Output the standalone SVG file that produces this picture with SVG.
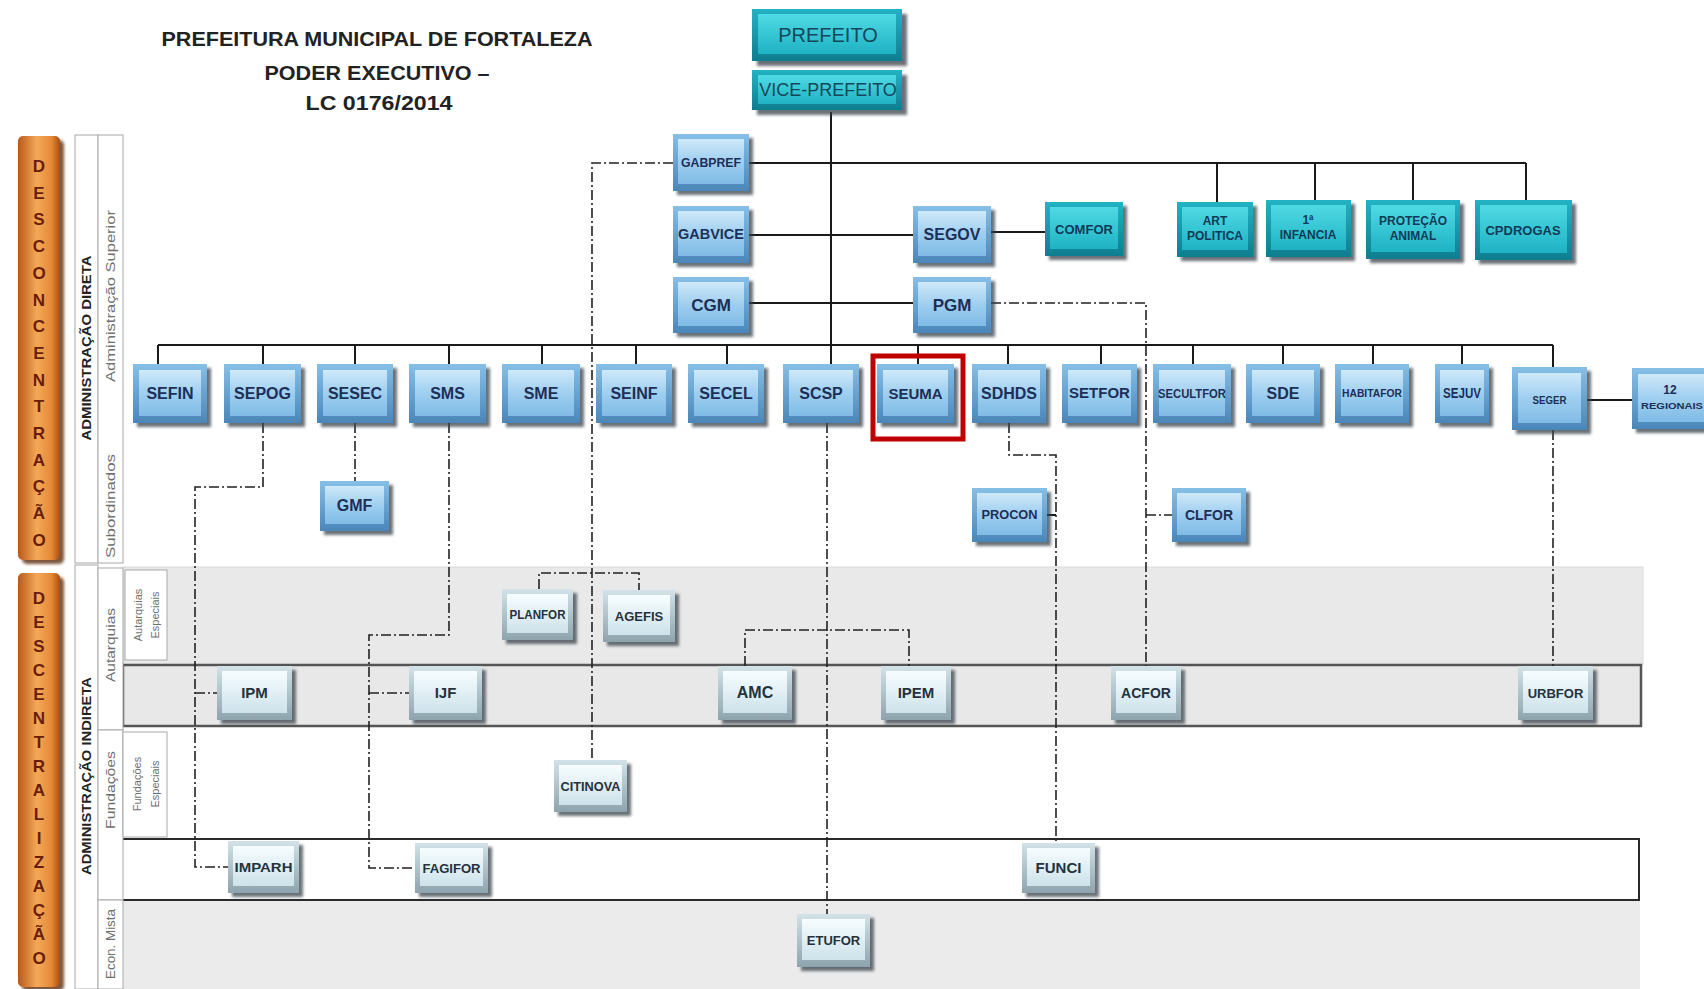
<svg xmlns="http://www.w3.org/2000/svg" width="1704" height="989" viewBox="0 0 1704 989">
<defs>
<linearGradient id="gBO" x1="0" y1="0" x2="0" y2="1"><stop offset="0" stop-color="#86bfe6"/><stop offset="1" stop-color="#4a86b9"/></linearGradient>
<linearGradient id="gBF" x1="0" y1="0" x2="0" y2="1"><stop offset="0" stop-color="#cfe9f9"/><stop offset="0.5" stop-color="#9fcff0"/><stop offset="1" stop-color="#80bbe6"/></linearGradient>
<linearGradient id="gTO" x1="0" y1="0" x2="0" y2="1"><stop offset="0" stop-color="#22b3c4"/><stop offset="1" stop-color="#0e7d8f"/></linearGradient>
<linearGradient id="gTF" x1="0" y1="0" x2="0" y2="1"><stop offset="0" stop-color="#50dae4"/><stop offset="1" stop-color="#1eb2c4"/></linearGradient>
<linearGradient id="gPO" x1="0" y1="0" x2="0" y2="1"><stop offset="0" stop-color="#d2e2e8"/><stop offset="1" stop-color="#8ea4ad"/></linearGradient>
<linearGradient id="gPF" x1="0" y1="0" x2="0" y2="1"><stop offset="0" stop-color="#f7fdff"/><stop offset="1" stop-color="#cde2ea"/></linearGradient>
<linearGradient id="gOr" x1="0" y1="0" x2="1" y2="0"><stop offset="0" stop-color="#b8591a"/><stop offset="0.45" stop-color="#f4a957"/><stop offset="0.8" stop-color="#e48936"/><stop offset="1" stop-color="#a94e12"/></linearGradient>
<filter id="bl" x="-10%" y="-10%" width="130%" height="130%"><feGaussianBlur stdDeviation="1.5"/></filter>
</defs>
<style>
.sh{fill:#38424c;opacity:.75;filter:url(#bl)}
.nb .o{fill:url(#gBO)} .nb .f{fill:url(#gBF)}
.nt .o{fill:url(#gTO)} .nt .f{fill:url(#gTF)}
.np .o{fill:url(#gPO)} .np .f{fill:url(#gPF)}
.nb text,.np text,.nt text{font-family:"Liberation Sans",Arial,sans-serif;font-weight:bold;text-anchor:middle;fill:#1d2f57}
.np text{fill:#25323e}
.nt text{fill:#0f3a55}
.ln{stroke:#1a1a1a;stroke-width:2;fill:none}
.dd{stroke:#222;stroke-width:1.6;fill:none;stroke-dasharray:10 3 2 3}
.lab{font-family:"Liberation Sans",Arial,sans-serif;fill:#6f6f6f;text-anchor:middle}
.labb{font-family:"Liberation Sans",Arial,sans-serif;fill:#222;font-weight:bold;text-anchor:middle}
.bx{fill:#fff;stroke:#a8a8a8;stroke-width:1}
.or{fill:url(#gOr)}
.orsh{fill:#5b2e0c;opacity:.8;filter:url(#bl)}
.orl{font-family:"Liberation Sans",Arial,sans-serif;font-weight:bold;font-size:17px;fill:#6a1c0b;text-anchor:middle}
.ttl{font-family:"Liberation Sans",Arial,sans-serif;font-weight:bold;font-size:20px;fill:#222;text-anchor:middle}
</style>
<rect width="1704" height="989" fill="#ffffff"/>

<g id="title">
<text class="ttl" x="377" y="46" textLength="431" lengthAdjust="spacingAndGlyphs">PREFEITURA MUNICIPAL DE FORTALEZA</text>
<text class="ttl" x="377" y="80" textLength="225" lengthAdjust="spacingAndGlyphs">PODER EXECUTIVO –</text>
<text class="ttl" x="379" y="110" textLength="147" lengthAdjust="spacingAndGlyphs">LC 0176/2014</text>
</g>

<g id="bands">
<rect x="123" y="567" width="1520" height="98" fill="#e9e9e9" stroke="#dadada"/>
<rect x="123" y="665" width="1518" height="61" fill="#e8e8e8" stroke="#555" stroke-width="2.5"/>
<rect x="98" y="900" width="1542" height="89" fill="#ebebeb"/>
<rect x="117" y="839" width="1522" height="61" fill="#ffffff" stroke="#2a2a2a" stroke-width="2"/>
</g>

<g id="side-labels">
<rect class="orsh" x="22" y="140" width="42" height="424" rx="5"/>
<rect class="or" x="18" y="136" width="42" height="424" rx="5"/>
<text class="orl"><tspan x="39" y="172">D</tspan><tspan x="39" y="198.7">E</tspan><tspan x="39" y="225.4">S</tspan><tspan x="39" y="252.1">C</tspan><tspan x="39" y="278.8">O</tspan><tspan x="39" y="305.5">N</tspan><tspan x="39" y="332.2">C</tspan><tspan x="39" y="358.9">E</tspan><tspan x="39" y="385.6">N</tspan><tspan x="39" y="412.3">T</tspan><tspan x="39" y="439">R</tspan><tspan x="39" y="465.7">A</tspan><tspan x="39" y="492.4">Ç</tspan><tspan x="39" y="519.1">Ã</tspan><tspan x="39" y="546">O</tspan></text>
<rect class="orsh" x="22" y="577" width="42" height="414" rx="5"/>
<rect class="or" x="18" y="573" width="42" height="414" rx="5"/>
<text class="orl"><tspan x="39" y="604">D</tspan><tspan x="39" y="628">E</tspan><tspan x="39" y="652">S</tspan><tspan x="39" y="676">C</tspan><tspan x="39" y="700">E</tspan><tspan x="39" y="724">N</tspan><tspan x="39" y="748">T</tspan><tspan x="39" y="772">R</tspan><tspan x="39" y="796">A</tspan><tspan x="39" y="820">L</tspan><tspan x="39" y="844">I</tspan><tspan x="39" y="868">Z</tspan><tspan x="39" y="892">A</tspan><tspan x="39" y="916">Ç</tspan><tspan x="39" y="940">Ã</tspan><tspan x="39" y="964">O</tspan></text>

<rect class="bx" x="75" y="135" width="23" height="428"/>
<rect class="bx" x="98" y="135" width="25" height="428"/>
<text class="labb" font-size="12.5" transform="translate(91,348) rotate(-90)" textLength="185" lengthAdjust="spacingAndGlyphs">ADMINISTRAÇÃO DIRETA</text>
<text class="lab" font-size="13" transform="translate(115,296) rotate(-90)" textLength="172" lengthAdjust="spacingAndGlyphs">Administração Superior</text>
<text class="lab" font-size="13" transform="translate(115,506) rotate(-90)" textLength="104" lengthAdjust="spacingAndGlyphs">Subordinados</text>

<rect class="bx" x="75" y="565" width="23" height="424"/>
<rect class="bx" x="98" y="568" width="25" height="162"/>
<rect class="bx" x="98" y="730" width="25" height="170"/>
<rect class="bx" x="98" y="900" width="25" height="89" fill="#ebebeb"/>
<rect class="bx" x="125" y="570" width="42" height="90"/>
<rect class="bx" x="123" y="732" width="44" height="105"/>
<text class="labb" font-size="12.5" transform="translate(91,776) rotate(-90)" textLength="198" lengthAdjust="spacingAndGlyphs">ADMINISTRAÇÃO INDIRETA</text>
<text class="lab" font-size="13" transform="translate(115,645) rotate(-90)" textLength="74" lengthAdjust="spacingAndGlyphs">Autarquias</text>
<text class="lab" font-size="13" transform="translate(115,790) rotate(-90)" textLength="78" lengthAdjust="spacingAndGlyphs">Fundações</text>
<text class="lab" font-size="13" transform="translate(115,944) rotate(-90)" textLength="70" lengthAdjust="spacingAndGlyphs">Econ. Mista</text>
<text class="lab" font-size="11" transform="translate(142,615) rotate(-90)">Autarquias</text>
<text class="lab" font-size="11" transform="translate(159,615) rotate(-90)">Especiais</text>
<text class="lab" font-size="11" transform="translate(141,784) rotate(-90)">Fundações</text>
<text class="lab" font-size="11" transform="translate(159,784) rotate(-90)">Especiais</text>
</g>

<g id="connectors">
<path class="ln" d="M831 112V364"/>
<path class="ln" d="M749 163H1526M1217 163V202M1315 163V200M1413 163V200M1526 163V200"/>
<path class="ln" d="M749 235H913"/>
<path class="ln" d="M991 232H1045"/>
<path class="ln" d="M749 303H913"/>
<path class="ln" d="M158 345H1553M158 345V364M263 345V364M355 345V364M449 345V364M542 345V364M636 345V364M727 345V364M918 345V364M1008 345V364M1101 345V364M1193 345V364M1283 345V364M1373 345V364M1462 345V364M1553 345V367"/>
<path class="ln" d="M1587 400H1632"/>
<path class="ln" d="M1047 515H1056"/>
<path class="dd" d="M673 163H592V760"/>
<path class="dd" stroke-width="2.4" d="M539 589V573H639V590"/>
<path class="dd" d="M263 423V487H195V867H228"/>
<path class="dd" d="M195 693H217"/>
<path class="dd" d="M355 423V481"/>
<path class="dd" d="M449 423V635H369V868H415"/>
<path class="dd" d="M369 693H409"/>
<path class="dd" d="M827 423V914"/>
<path class="dd" d="M745 666V630H909V666"/>
<path class="dd" d="M991 303H1146V666"/>
<path class="dd" d="M1146 515H1172"/>
<path class="dd" d="M1009 423V455H1056V843"/>
<path class="dd" d="M1553 430V666"/>
</g>

<g id="n-prefeito" class="nt"><rect class="sh" x="757" y="14" width="150" height="52"/><rect class="o" x="752" y="9" width="150" height="52"/><rect class="f" x="758" y="14" width="138" height="40"/><text x="828" y="42" font-size="20" style="font-weight:normal;fill:#12495a">PREFEITO</text></g>
<g id="n-vice" class="nt"><rect class="sh" x="757" y="75" width="150" height="40"/><rect class="o" x="752" y="70" width="150" height="40"/><rect class="f" x="758" y="75" width="138" height="29"/><text x="828" y="96" font-size="18" style="font-weight:normal;fill:#12495a">VICE-PREFEITO</text></g>

<g id="n-gabpref" class="nb"><rect class="sh" x="677" y="138" width="76" height="57"/><rect class="o" x="673" y="134" width="76" height="57"/><rect class="f" x="678" y="139" width="66" height="45"/><text x="711" y="167" font-size="13" textLength="60" lengthAdjust="spacingAndGlyphs">GABPREF</text></g>
<g id="n-gabvice" class="nb"><rect class="sh" x="677" y="210" width="76" height="57"/><rect class="o" x="673" y="206" width="76" height="57"/><rect class="f" x="678" y="211" width="66" height="45"/><text x="711" y="239" font-size="14" textLength="66" lengthAdjust="spacingAndGlyphs">GABVICE</text></g>
<g id="n-cgm" class="nb"><rect class="sh" x="677" y="281" width="76" height="56"/><rect class="o" x="673" y="277" width="76" height="56"/><rect class="f" x="678" y="282" width="66" height="44"/><text x="711" y="311" font-size="17">CGM</text></g>
<g id="n-segov" class="nb"><rect class="sh" x="917" y="210" width="78" height="57"/><rect class="o" x="913" y="206" width="78" height="57"/><rect class="f" x="918" y="211" width="68" height="45"/><text x="952" y="240" font-size="16">SEGOV</text></g>
<g id="n-pgm" class="nb"><rect class="sh" x="917" y="281" width="78" height="56"/><rect class="o" x="913" y="277" width="78" height="56"/><rect class="f" x="918" y="282" width="68" height="44"/><text x="952" y="311" font-size="17">PGM</text></g>

<g id="n-comfor" class="nt"><rect class="sh" x="1049" y="206" width="78" height="54"/><rect class="o" x="1045" y="202" width="78" height="54"/><rect class="f" x="1050" y="207" width="68" height="42"/><text x="1084" y="234" font-size="13">COMFOR</text></g>
<g id="n-artpol" class="nt"><rect class="sh" x="1181" y="206" width="76" height="55"/><rect class="o" x="1177" y="202" width="76" height="55"/><rect class="f" x="1182" y="207" width="66" height="43"/><text x="1215" y="225" font-size="12">ART</text><text x="1215" y="240" font-size="12">POLITICA</text></g>
<g id="n-infancia" class="nt"><rect class="sh" x="1270" y="204" width="85" height="57"/><rect class="o" x="1266" y="200" width="85" height="57"/><rect class="f" x="1271" y="205" width="75" height="45"/><text x="1308" y="224" font-size="12">1ª</text><text x="1308" y="239" font-size="12">INFANCIA</text></g>
<g id="n-protecao" class="nt"><rect class="sh" x="1370" y="204" width="94" height="59"/><rect class="o" x="1366" y="200" width="94" height="59"/><rect class="f" x="1371" y="205" width="84" height="47"/><text x="1413" y="225" font-size="12">PROTEÇÃO</text><text x="1413" y="240" font-size="12">ANIMAL</text></g>
<g id="n-cpdrogas" class="nt"><rect class="sh" x="1479" y="204" width="97" height="60"/><rect class="o" x="1475" y="200" width="97" height="60"/><rect class="f" x="1480" y="205" width="87" height="48"/><text x="1523" y="235" font-size="13">CPDROGAS</text></g>

<g id="n-sefin" class="nb"><rect class="sh" x="137" y="368" width="74" height="59"/><rect class="o" x="133" y="364" width="74" height="59"/><rect class="f" x="139" y="370" width="62" height="46"/><text x="170" y="399" font-size="16">SEFIN</text></g>
<g id="n-sepog" class="nb"><rect class="sh" x="228" y="368" width="77" height="59"/><rect class="o" x="224" y="364" width="77" height="59"/><rect class="f" x="230" y="370" width="65" height="46"/><text x="262.5" y="399" font-size="16">SEPOG</text></g>
<g id="n-sesec" class="nb"><rect class="sh" x="321" y="368" width="76" height="59"/><rect class="o" x="317" y="364" width="76" height="59"/><rect class="f" x="323" y="370" width="64" height="46"/><text x="355" y="399" font-size="16">SESEC</text></g>
<g id="n-sms" class="nb"><rect class="sh" x="413" y="368" width="77" height="59"/><rect class="o" x="409" y="364" width="77" height="59"/><rect class="f" x="415" y="370" width="65" height="46"/><text x="447.5" y="399" font-size="16">SMS</text></g>
<g id="n-sme" class="nb"><rect class="sh" x="506" y="368" width="78" height="59"/><rect class="o" x="502" y="364" width="78" height="59"/><rect class="f" x="508" y="370" width="66" height="46"/><text x="541" y="399" font-size="16">SME</text></g>
<g id="n-seinf" class="nb"><rect class="sh" x="600" y="368" width="76" height="59"/><rect class="o" x="596" y="364" width="76" height="59"/><rect class="f" x="602" y="370" width="64" height="46"/><text x="634" y="399" font-size="16">SEINF</text></g>
<g id="n-secel" class="nb"><rect class="sh" x="692" y="368" width="76" height="59"/><rect class="o" x="688" y="364" width="76" height="59"/><rect class="f" x="694" y="370" width="64" height="46"/><text x="726" y="399" font-size="16">SECEL</text></g>
<g id="n-scsp" class="nb"><rect class="sh" x="787" y="368" width="76" height="59"/><rect class="o" x="783" y="364" width="76" height="59"/><rect class="f" x="789" y="370" width="64" height="46"/><text x="821" y="399" font-size="16">SCSP</text></g>
<g id="n-seuma" class="nb"><rect class="sh" x="881" y="368" width="77" height="59"/><rect class="o" x="877" y="364" width="77" height="59"/><rect class="f" x="883" y="370" width="65" height="46"/><text x="915.5" y="399" font-size="15">SEUMA</text></g>
<g id="n-sdhds" class="nb"><rect class="sh" x="976" y="368" width="74" height="59"/><rect class="o" x="972" y="364" width="74" height="59"/><rect class="f" x="978" y="370" width="62" height="46"/><text x="1009" y="399" font-size="16">SDHDS</text></g>
<g id="n-setfor" class="nb"><rect class="sh" x="1066" y="368" width="75" height="59"/><rect class="o" x="1062" y="364" width="75" height="59"/><rect class="f" x="1068" y="370" width="63" height="46"/><text x="1099.5" y="398" font-size="15">SETFOR</text></g>
<g id="n-secultfor" class="nb"><rect class="sh" x="1157" y="368" width="78" height="59"/><rect class="o" x="1153" y="364" width="78" height="59"/><rect class="f" x="1159" y="370" width="66" height="46"/><text x="1192" y="398" font-size="13" textLength="68" lengthAdjust="spacingAndGlyphs">SECULTFOR</text></g>
<g id="n-sde" class="nb"><rect class="sh" x="1250" y="368" width="74" height="59"/><rect class="o" x="1246" y="364" width="74" height="59"/><rect class="f" x="1252" y="370" width="62" height="46"/><text x="1283" y="399" font-size="16">SDE</text></g>
<g id="n-habitafor" class="nb"><rect class="sh" x="1339" y="368" width="74" height="59"/><rect class="o" x="1335" y="364" width="74" height="59"/><rect class="f" x="1341" y="370" width="62" height="46"/><text x="1372" y="397" font-size="11" textLength="60" lengthAdjust="spacingAndGlyphs">HABITAFOR</text></g>
<g id="n-sejuv" class="nb"><rect class="sh" x="1439" y="368" width="54" height="59"/><rect class="o" x="1435" y="364" width="54" height="59"/><rect class="f" x="1440" y="370" width="44" height="46"/><text x="1462" y="398" font-size="14" textLength="38" lengthAdjust="spacingAndGlyphs">SEJUV</text></g>
<g id="n-seger" class="nb"><rect class="sh" x="1516" y="371" width="75" height="63"/><rect class="o" x="1512" y="367" width="75" height="63"/><rect class="f" x="1518" y="373" width="63" height="50"/><text x="1549.5" y="404" font-size="11" textLength="34" lengthAdjust="spacingAndGlyphs">SEGER</text></g>
<g id="n-regionais" class="nb"><rect class="sh" x="1636" y="372" width="82" height="61"/><rect class="o" x="1632" y="368" width="82" height="61"/><rect class="f" x="1638" y="374" width="70" height="48"/><text x="1670" y="394" font-size="12">12</text><text x="1672" y="409" font-size="9" textLength="62" lengthAdjust="spacingAndGlyphs">REGIONAIS</text></g>

<g id="n-gmf" class="nb"><rect class="sh" x="324" y="485" width="69" height="50"/><rect class="o" x="320" y="481" width="69" height="50"/><rect class="f" x="325" y="486" width="59" height="38"/><text x="354.5" y="511" font-size="16">GMF</text></g>
<g id="n-procon" class="nb"><rect class="sh" x="976" y="492" width="75" height="54"/><rect class="o" x="972" y="488" width="75" height="54"/><rect class="f" x="977" y="493" width="65" height="42"/><text x="1009.5" y="519" font-size="12" textLength="56" lengthAdjust="spacingAndGlyphs">PROCON</text></g>
<g id="n-clfor" class="nb"><rect class="sh" x="1176" y="492" width="74" height="54"/><rect class="o" x="1172" y="488" width="74" height="54"/><rect class="f" x="1177" y="493" width="64" height="42"/><text x="1209" y="520" font-size="14">CLFOR</text></g>

<g id="n-planfor" class="np"><rect class="sh" x="506" y="593" width="71" height="51"/><rect class="o" x="502" y="589" width="71" height="51"/><rect class="f" x="507" y="594" width="61" height="39"/><text x="537.5" y="619" font-size="12" textLength="56" lengthAdjust="spacingAndGlyphs">PLANFOR</text></g>
<g id="n-agefis" class="np"><rect class="sh" x="607" y="594" width="72" height="52"/><rect class="o" x="603" y="590" width="72" height="52"/><rect class="f" x="608" y="595" width="62" height="40"/><text x="639" y="621" font-size="13">AGEFIS</text></g>
<g id="n-ipm" class="np"><rect class="sh" x="221" y="670" width="75" height="54"/><rect class="o" x="217" y="666" width="75" height="54"/><rect class="f" x="222" y="671" width="65" height="42"/><text x="254.5" y="698" font-size="15">IPM</text></g>
<g id="n-ijf" class="np"><rect class="sh" x="413" y="670" width="73" height="54"/><rect class="o" x="409" y="666" width="73" height="54"/><rect class="f" x="414" y="671" width="63" height="42"/><text x="445.5" y="698" font-size="15">IJF</text></g>
<g id="n-amc" class="np"><rect class="sh" x="722" y="670" width="74" height="54"/><rect class="o" x="718" y="666" width="74" height="54"/><rect class="f" x="723" y="671" width="64" height="42"/><text x="755" y="698" font-size="16">AMC</text></g>
<g id="n-ipem" class="np"><rect class="sh" x="885" y="670" width="70" height="54"/><rect class="o" x="881" y="666" width="70" height="54"/><rect class="f" x="886" y="671" width="60" height="42"/><text x="916" y="698" font-size="15">IPEM</text></g>
<g id="n-acfor" class="np"><rect class="sh" x="1115" y="670" width="70" height="54"/><rect class="o" x="1111" y="666" width="70" height="54"/><rect class="f" x="1116" y="671" width="60" height="42"/><text x="1146" y="698" font-size="14">ACFOR</text></g>
<g id="n-urbfor" class="np"><rect class="sh" x="1522" y="670" width="75" height="54"/><rect class="o" x="1518" y="666" width="75" height="54"/><rect class="f" x="1523" y="671" width="65" height="42"/><text x="1555.5" y="698" font-size="13">URBFOR</text></g>
<g id="n-citinova" class="np"><rect class="sh" x="558" y="764" width="73" height="52"/><rect class="o" x="554" y="760" width="73" height="52"/><rect class="f" x="559" y="765" width="63" height="40"/><text x="590.5" y="791" font-size="12" textLength="60" lengthAdjust="spacingAndGlyphs">CITINOVA</text></g>
<g id="n-imparh" class="np"><rect class="sh" x="232" y="845" width="71" height="52"/><rect class="o" x="228" y="841" width="71" height="52"/><rect class="f" x="233" y="846" width="61" height="40"/><text x="263.5" y="872" font-size="13" textLength="58" lengthAdjust="spacingAndGlyphs">IMPARH</text></g>
<g id="n-fagifor" class="np"><rect class="sh" x="419" y="847" width="73" height="50"/><rect class="o" x="415" y="843" width="73" height="50"/><rect class="f" x="420" y="848" width="63" height="38"/><text x="451.5" y="873" font-size="12.5" textLength="58" lengthAdjust="spacingAndGlyphs">FAGIFOR</text></g>
<g id="n-funci" class="np"><rect class="sh" x="1026" y="847" width="73" height="50"/><rect class="o" x="1022" y="843" width="73" height="50"/><rect class="f" x="1027" y="848" width="63" height="38"/><text x="1058.5" y="873" font-size="15">FUNCI</text></g>
<g id="n-etufor" class="np"><rect class="sh" x="801" y="918" width="73" height="53"/><rect class="o" x="797" y="914" width="73" height="53"/><rect class="f" x="802" y="919" width="63" height="41"/><text x="833.5" y="945" font-size="13">ETUFOR</text></g>

<rect id="highlight" x="873" y="356" width="90" height="83" fill="none" stroke="#c00000" stroke-width="5"/>
</svg>
